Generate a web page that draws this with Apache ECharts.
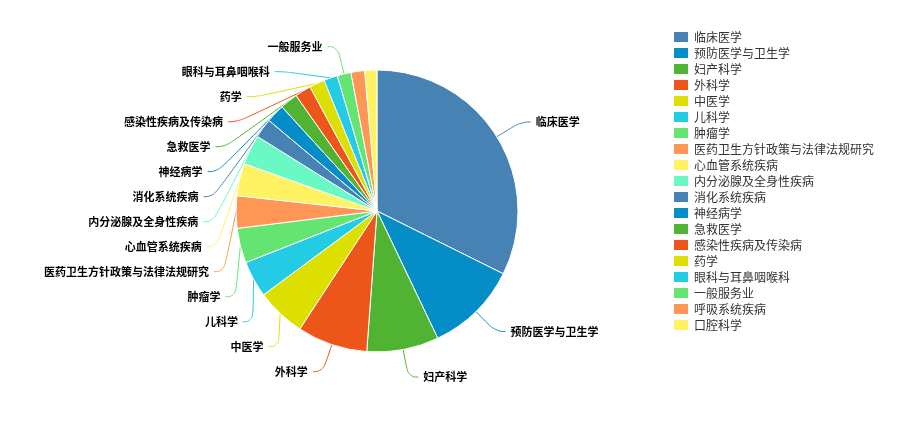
<!DOCTYPE html>
<html>
<head>
<meta charset="utf-8">
<script src="https://cdn.jsdelivr.net/npm/echarts@6/dist/echarts.min.js"></script>
<style>
html, body { margin: 0; padding: 0; background: #fff; }
#chart { width: 897px; height: 425px; }
</style>
</head>
<body>
<div id="chart"></div>
<script>
// Disciplines, clockwise from 12 o'clock
var categories = [
  '临床医学', '预防医学与卫生学', '妇产科学', '外科学', '中医学', '儿科学', '肿瘤学',
  '医药卫生方针政策与法律法规研究', '心血管系统疾病', '内分泌腺及全身性疾病', '消化系统疾病',
  '神经病学', '急救医学', '感染性疾病及传染病', '药学', '眼科与耳鼻咽喉科', '一般服务业',
  '呼吸系统疾病', '口腔科学'
];
var counts = [349, 114, 89, 87, 61, 45, 43, 40, 40, 37, 24, 23, 22, 20, 19, 17, 17, 17, 15];
// Slices whose outside label is not shown
var unlabeled = ['呼吸系统疾病', '口腔科学'];

var palette = ['#4682B4', '#058DC7', '#50B432', '#ED561B', '#DDDF00',
               '#24CBE5', '#64E572', '#FF9655', '#FFF263', '#6AF9C4'];

var pieData = categories.map(function (name, i) {
  var item = { name: name, value: counts[i] };
  if (unlabeled.indexOf(name) >= 0) {
    item.label = { show: false };
    item.labelLine = { show: false };
  }
  return item;
});

var chart = echarts.init(document.getElementById('chart'));
chart.setOption({
  color: palette,
  animation: false,
  legend: {
    orient: 'vertical',
    left: 667,
    top: 25,
    itemWidth: 16,
    itemHeight: 12,
    itemGap: 2,
    icon: 'rect',
    textStyle: { fontSize: 12, lineHeight: 12, color: '#333', fontFamily: 'Noto Sans CJK SC' },
    data: categories
  },
  series: [{
    type: 'pie',
    center: [377, 211],
    radius: [0, 141],
    startAngle: 90,
    clockwise: true,
    avoidLabelOverlap: true,
    itemStyle: { borderColor: '#fff', borderWidth: 1 },
    label: {
      show: true,
      position: 'outside',
      color: '#000',
      fontSize: 11,
      lineHeight: 23,
      fontWeight: 'bold',
      fontFamily: 'Noto Sans CJK SC'
    },
    labelLine: { show: true, length: 28, length2: 10, smooth: 0.5 },
    emphasis: { disabled: true },
    data: pieData
  }]
});
</script>
</body>
</html>
